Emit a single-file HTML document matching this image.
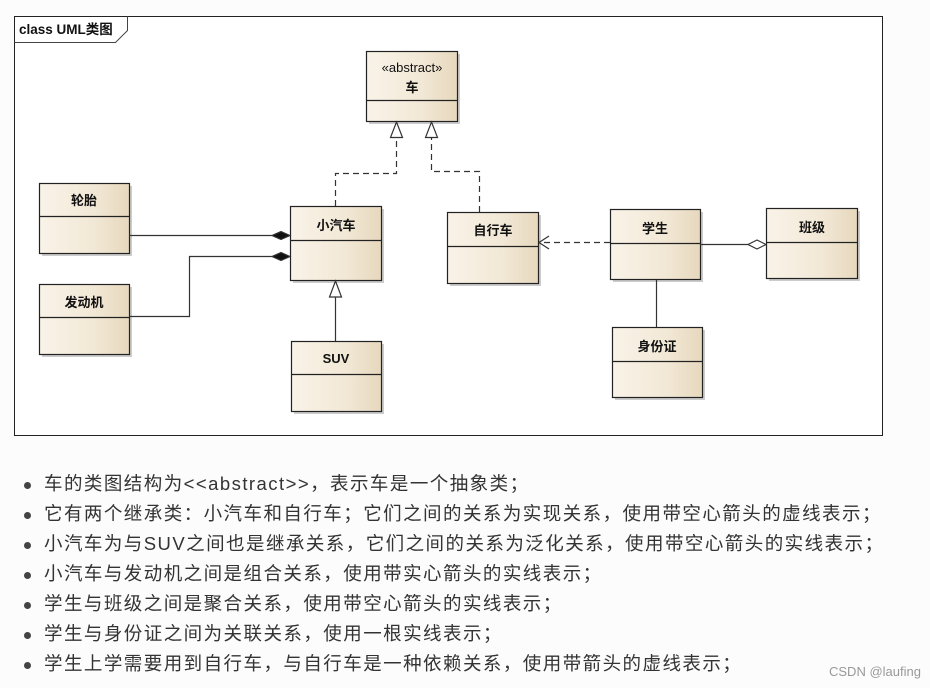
<!DOCTYPE html>
<html><head><meta charset="utf-8"><style>
body{margin:0;width:930px;height:688px;background:#fcfcfc;position:relative;overflow:hidden;font-family:"Liberation Sans","Noto Sans CJK SC",sans-serif}
ul{position:absolute;left:0;top:469px;margin:0;padding:0;list-style:none}
li{position:relative;height:30px;line-height:30px;padding-left:44px;font-size:18.5px;letter-spacing:1.45px;color:#333;white-space:nowrap}
li:before{content:"";position:absolute;left:24px;top:13px;width:7px;height:7px;border-radius:50%;background:#444}
.wm{position:absolute;left:829px;top:664px;font-size:13px;color:#999}
</style></head><body>
<svg width="930" height="460" style="position:absolute;left:0;top:0" font-family="Liberation Sans, Noto Sans CJK SC, sans-serif">
<defs>
<linearGradient id="g" x1="0" x2="1" y1="0" y2="0"><stop offset="0" stop-color="#f9f3e8"/><stop offset="0.6" stop-color="#f2e8d6"/><stop offset="1" stop-color="#e6d8bd"/></linearGradient>
</defs>
<rect x="14.5" y="16.5" width="868" height="419" fill="#fff" stroke="#222"/>
<path d="M14.5 42.5H115.5L127.5 30.5V16.5" fill="none" stroke="#444"/>
<text x="19" y="34" font-size="13.5" font-weight="bold" fill="#111">class UML类图</text>
<g fill="#ccc" stroke="none">
<rect x="369" y="54" width="91" height="70"/><rect x="42" y="186" width="90" height="70"/><rect x="293" y="209" width="91" height="74"/>
<rect x="450" y="215" width="91" height="71"/><rect x="613" y="212" width="90" height="70"/><rect x="769" y="211" width="91" height="70"/>
<rect x="615" y="330" width="90" height="70"/><rect x="42" y="287" width="90" height="70"/><rect x="294" y="344" width="90" height="70"/>
</g>
<g stroke="#222" fill="url(#g)" stroke-width="1.2">
<rect x="366.5" y="51.5" width="91" height="70"/><line x1="366.5" y1="100.5" x2="457.5" y2="100.5"/>
<rect x="39.5" y="183.5" width="90" height="70"/><line x1="39.5" y1="216.5" x2="129.5" y2="216.5"/>
<rect x="290.5" y="206.5" width="91" height="74"/><line x1="290.5" y1="240.5" x2="381.5" y2="240.5"/>
<rect x="447.5" y="212.5" width="91" height="71"/><line x1="447.5" y1="246.5" x2="538.5" y2="246.5"/>
<rect x="610.5" y="209.5" width="90" height="70"/><line x1="610.5" y1="243.5" x2="700.5" y2="243.5"/>
<rect x="766.5" y="208.5" width="91" height="70"/><line x1="766.5" y1="242.5" x2="857.5" y2="242.5"/>
<rect x="612.5" y="327.5" width="90" height="70"/><line x1="612.5" y1="361.5" x2="702.5" y2="361.5"/>
<rect x="39.5" y="284.5" width="90" height="70"/><line x1="39.5" y1="317.5" x2="129.5" y2="317.5"/>
<rect x="291.5" y="341.5" width="90" height="70"/><line x1="291.5" y1="374.5" x2="381.5" y2="374.5"/>
</g>
<g font-size="13" font-weight="bold" fill="#111" text-anchor="middle">
<text x="412" y="72" font-weight="normal">«abstract»</text><text x="412" y="92">车</text>
<text x="84" y="205">轮胎</text><text x="336" y="230">小汽车</text><text x="493" y="235">自行车</text>
<text x="655" y="233">学生</text><text x="812" y="232">班级</text><text x="657" y="351">身份证</text>
<text x="84" y="307">发动机</text><text x="336" y="363">SUV</text>
</g>
<g fill="none" stroke="#333" stroke-width="1.2">
<path d="M335.5 206V173.5H396.5V138" stroke-dasharray="6,4"/>
<path d="M479.5 212V171.5H431.5V138" stroke-dasharray="6,4"/>
<path d="M610 242.5H540" stroke-dasharray="6,4"/>
<path d="M549 236L539 242.5L549 249"/>
<path d="M129 235.5H272"/>
<path d="M129 316.5H189.5V256.5H272"/>
<path d="M335.5 341V297"/>
<path d="M700 244.5H748"/>
<path d="M656.5 280V327"/>
</g>
<g stroke="#333" stroke-width="1.2">
<path d="M396.5 122L390.5 137.5H402.5Z" fill="#fff"/>
<path d="M431.5 122L425.5 137.5H437.5Z" fill="#fff"/>
<path d="M335.5 281L329.5 297H341.5Z" fill="#fff"/>
<path d="M290 235.5L281 231.5L272 235.5L281 239.5Z" fill="#111"/>
<path d="M290 256.5L281 252.5L272 256.5L281 260.5Z" fill="#111"/>
<path d="M766 244.5L757 240L748 244.5L757 249Z" fill="#fff"/>
</g>
</svg>
<ul>
<li>车的类图结构为&lt;&lt;abstract&gt;&gt;，表示车是一个抽象类；</li>
<li>它有两个继承类：小汽车和自行车；它们之间的关系为实现关系，使用带空心箭头的虚线表示；</li>
<li>小汽车为与SUV之间也是继承关系，它们之间的关系为泛化关系，使用带空心箭头的实线表示；</li>
<li>小汽车与发动机之间是组合关系，使用带实心箭头的实线表示；</li>
<li>学生与班级之间是聚合关系，使用带空心箭头的实线表示；</li>
<li>学生与身份证之间为关联关系，使用一根实线表示；</li>
<li>学生上学需要用到自行车，与自行车是一种依赖关系，使用带箭头的虚线表示；</li>
</ul>
<div class="wm">CSDN @laufing</div>
</body></html>
